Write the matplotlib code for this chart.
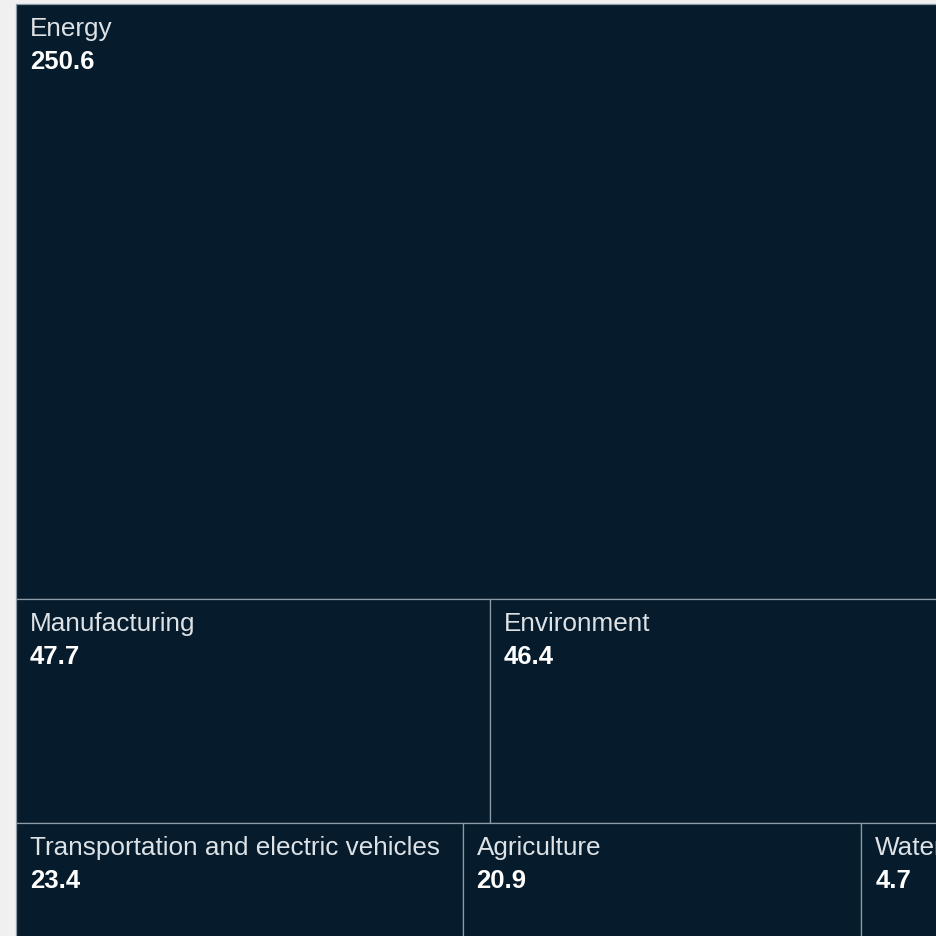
import matplotlib.pyplot as plt
from matplotlib.patches import Rectangle

# values, grouped by treemap row
labels = ["Energy", "Manufacturing", "Environment",
          "Transportation and electric vehicles", "Agriculture", "Water"]
values = [250.6, 47.7, 46.4, 23.4, 20.9, 4.7]
rows = [[0], [1, 2], [3, 4, 5]]  # indices into labels/values

bg = "#f0f0f0"
navy = "#061b2b"
edge = "#8d9ba6"

plt.rcParams['font.family'] = ['Liberation Sans', 'DejaVu Sans']

fig = plt.figure(figsize=(9.36, 9.36), dpi=100, facecolor=bg)
ax = fig.add_axes([0, 0, 1, 1])
ax.set_facecolor(bg)

total = sum(values)
side = 1.0
y = 0.0
for row in rows:
    row_sum = sum(values[i] for i in row)
    h = row_sum / total * side
    x = 0.0
    for i in row:
        w = values[i] / row_sum * side
        ax.add_patch(Rectangle((x, y), w, h, facecolor=navy,
                               edgecolor=edge, linewidth=0.9))
        ax.annotate(labels[i], xy=(x, y), xytext=(14, -13),
                    textcoords='offset pixels', ha='left', va='top',
                    color="#dde2e6", fontsize=18.8, clip_on=True)
        ax.annotate(f"{values[i]:.1f}", xy=(x, y), xytext=(14, -46),
                    textcoords='offset pixels', ha='left', va='top',
                    color="white", fontsize=18.5, fontweight='bold')
        x += w
    y += h

# the original is a crop of a larger square treemap
px = 935.0
ax.set_xlim(-16 / px, (936 - 16) / px)
ax.set_ylim((936 - 4) / px, -4 / px)
ax.axis('off')

plt.savefig('out.png', dpi=100, facecolor=bg)
